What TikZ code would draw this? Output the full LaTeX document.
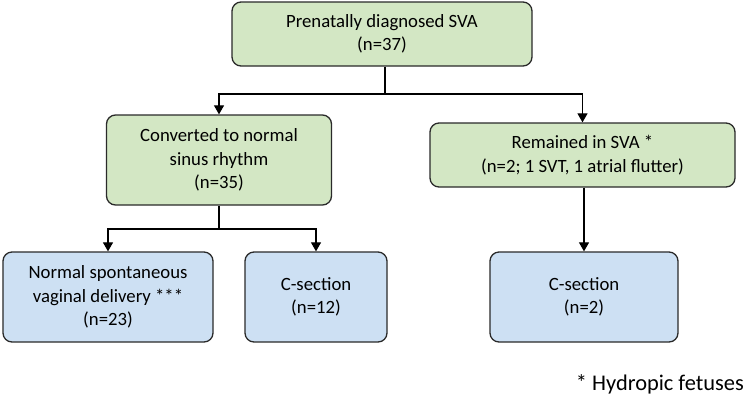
\documentclass[tikz,border=0pt]{standalone}
\usepackage{fontspec}
\setmainfont{Carlito}
\usetikzlibrary{arrows.meta}
\definecolor{gfill}{HTML}{D3E7C4}
\definecolor{bfill}{HTML}{CDE0F3}
\definecolor{edge}{HTML}{2A2A2A}
\begin{document}
\begin{tikzpicture}[x=1bp,y=-1bp,
  box/.style={draw=edge,line width=1.3bp,rounded corners=9bp,align=center,font=\fontsize{18.8}{23.5}\selectfont,inner sep=0pt},
  gbox/.style={box,fill=gfill},
  bbox/.style={box,fill=bfill},
  arr/.style={draw=black,line width=1.2bp,-{Triangle[length=9bp,width=10bp]}},
  ln/.style={draw=black,line width=1.2bp}]
\useasboundingbox (0,0) rectangle (745,408);
\node[gbox,minimum width=300bp,minimum height=64bp] (top) at (382,34) {Prenatally diagnosed SVA\\(n=37)};
\node[gbox,minimum width=225bp,minimum height=90bp] (lg) at (219,160) {Converted to normal\\sinus rhythm\\(n=35)};
\node[gbox,minimum width=305bp,minimum height=64bp] (rg) at (582.5,155) {Remained in SVA *\\(n=2; 1 SVT, 1 atrial flutter)};
\node[bbox,minimum width=210bp,minimum height=90bp] (bl) at (108,297) {Normal spontaneous\\vaginal delivery ***\\(n=23)};
\node[bbox,minimum width=142bp,minimum height=90bp] (bm) at (316,297) {C-section\\(n=12)};
\node[bbox,minimum width=188bp,minimum height=90bp] (br) at (584,297) {C-section\\(n=2)};
\node[anchor=east,font=\fontsize{22.5}{26}\selectfont,inner sep=0pt] (fn) at (744,384) {* Hydropic fetuses};
\coordinate (j1) at (385,94);
\coordinate (j2) at (219,229);
\draw[ln] (top.south -| j1) -- (j1);
\draw[arr] (j1) -| (lg.north);
\draw[arr] (j1) -| (rg.north);
\draw[ln] (lg.south) -- (j2);
\draw[arr] (j2) -| (bl.north);
\draw[arr] (j2) -| (bm.north);
\draw[arr] (rg.south -| br.north) -- (br.north);
\end{tikzpicture}
\end{document}
